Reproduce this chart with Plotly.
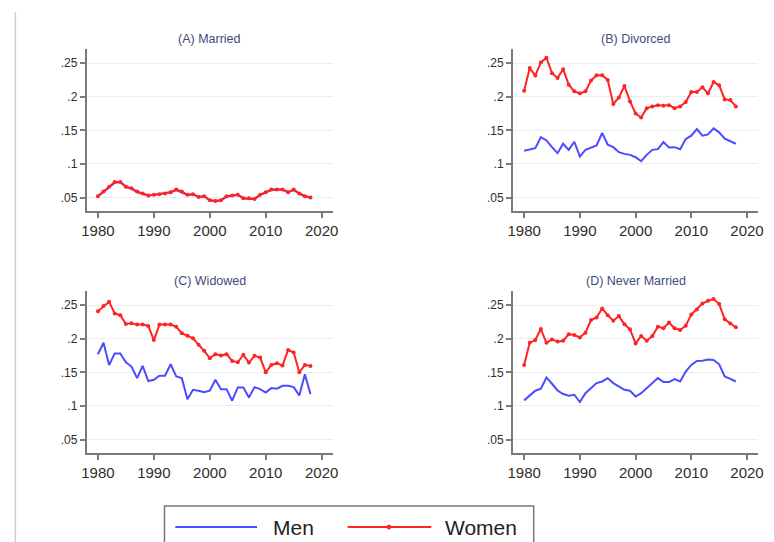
import plotly.graph_objects as go

# Survey years
years = list(range(1980, 2019))

# Share by marital status, men and women
married_men = [0.052, 0.058, 0.065, 0.072, 0.073, 0.066, 0.063, 0.058, 0.055, 0.053,
               0.054, 0.055, 0.056, 0.058, 0.061, 0.058, 0.054, 0.055, 0.051, 0.052,
               0.046, 0.045, 0.046, 0.051, 0.053, 0.054, 0.049, 0.049, 0.048, 0.054,
               0.058, 0.061, 0.062, 0.062, 0.058, 0.061, 0.056, 0.052, 0.050]
married_women = [0.052, 0.059, 0.066, 0.073, 0.073, 0.066, 0.064, 0.059, 0.056, 0.053,
                 0.054, 0.055, 0.056, 0.058, 0.062, 0.059, 0.054, 0.055, 0.051, 0.052,
                 0.046, 0.045, 0.046, 0.052, 0.053, 0.054, 0.049, 0.049, 0.048, 0.054,
                 0.058, 0.062, 0.062, 0.062, 0.058, 0.062, 0.056, 0.052, 0.050]

divorced_men = [0.1195, 0.121, 0.1235, 0.140, 0.135, 0.125, 0.116, 0.130, 0.121, 0.133,
                0.111, 0.121, 0.124, 0.1275, 0.146, 0.1285, 0.125, 0.1175, 0.115, 0.1135,
                0.110, 0.104, 0.1135, 0.121, 0.122, 0.1325, 0.1245, 0.125, 0.122, 0.137,
                0.142, 0.152, 0.142, 0.144, 0.153, 0.147, 0.1375, 0.1335, 0.130]
divorced_women = [0.209, 0.2426, 0.2316, 0.251, 0.258, 0.235, 0.228, 0.241, 0.218, 0.208,
                  0.205, 0.208, 0.224, 0.232, 0.232, 0.225, 0.189, 0.199, 0.216, 0.193,
                  0.175, 0.169, 0.183, 0.1855, 0.1875, 0.1865, 0.1875, 0.183, 0.1855, 0.192,
                  0.207, 0.207, 0.214, 0.205, 0.222, 0.217, 0.196, 0.195, 0.1855]

widowed_men = [0.177, 0.194, 0.161, 0.178, 0.178, 0.165, 0.1586, 0.1414, 0.1596, 0.137,
               0.139, 0.145, 0.145, 0.162, 0.1438, 0.1414, 0.110, 0.124, 0.1226, 0.1206,
               0.1226, 0.139, 0.125, 0.125, 0.1078, 0.1275, 0.1275, 0.1127, 0.128, 0.125,
               0.120, 0.1265, 0.1256, 0.130, 0.130, 0.128, 0.1157, 0.147, 0.1176]
widowed_women = [0.241, 0.2485, 0.255, 0.2376, 0.235, 0.222, 0.223, 0.221, 0.221, 0.219,
                 0.198, 0.221, 0.221, 0.221, 0.218, 0.208, 0.2045, 0.2006, 0.191, 0.182,
                 0.171, 0.177, 0.175, 0.177, 0.167, 0.165, 0.176, 0.1646, 0.1745, 0.172,
                 0.150, 0.161, 0.1636, 0.160, 0.1833, 0.1794, 0.150, 0.161, 0.1596]

never_men = [0.1083, 0.1152, 0.1226, 0.1256, 0.1424, 0.133, 0.123, 0.1177, 0.1152, 0.1167,
             0.1058, 0.119, 0.1265, 0.134, 0.1364, 0.1414, 0.134, 0.129, 0.124, 0.1226,
             0.114, 0.119, 0.1265, 0.134, 0.1414, 0.1355, 0.1355, 0.1399, 0.1364, 0.1512,
             0.161, 0.167, 0.1674, 0.169, 0.1685, 0.162, 0.1438, 0.1404, 0.1364]
never_women = [0.161, 0.194, 0.198, 0.2144, 0.194, 0.199, 0.1957, 0.197, 0.2066, 0.2056,
               0.202, 0.209, 0.2278, 0.2317, 0.245, 0.235, 0.2268, 0.2337, 0.2214, 0.214,
               0.193, 0.204, 0.197, 0.204, 0.218, 0.2155, 0.224, 0.2155, 0.213, 0.2194,
               0.236, 0.2436, 0.2525, 0.2564, 0.259, 0.2515, 0.2288, 0.2228, 0.217]

panel_titles = ["(A) Married", "(B) Divorced", "(C) Widowed", "(D) Never Married"]
panel_men = [married_men, divorced_men, widowed_men, never_men]
panel_women = [married_women, divorced_women, widowed_women, never_women]

y_tickvals = [0.05, 0.10, 0.15, 0.20, 0.25]
y_ticktext = [".05", ".1", ".15", ".2", ".25"]
x_tickvals = [1980, 1990, 2000, 2010, 2020]

W, H = 774, 542
MEN_COLOR = "#4b4bff"
WOMEN_COLOR = "#ff2424"
AXIS_COLOR = "#7a7a7a"
GRID_COLOR = "#e7eff1"
TITLE_COLOR = "#3f4c7e"
FONT = "Liberation Sans, Arial"

# plot-area boxes in pixels: (left, right, top, bottom)
boxes = [(82, 332, 49, 211), (515, 764, 49, 211),
         (82, 332, 291, 453), (515, 764, 291, 453)]

fig = go.Figure()
annotations = []
for i, (title, men, women, box) in enumerate(zip(panel_titles, panel_men, panel_women, boxes)):
    n = "" if i == 0 else str(i + 1)
    l, r, t, b = box
    fig.add_trace(go.Scatter(x=years, y=men, mode="lines", name="Men",
                             line=dict(color=MEN_COLOR, width=2),
                             xaxis="x" + n, yaxis="y" + n, showlegend=False))
    fig.add_trace(go.Scatter(x=years, y=women, mode="lines+markers", name="Women",
                             line=dict(color=WOMEN_COLOR, width=2),
                             marker=dict(color=WOMEN_COLOR, size=4),
                             xaxis="x" + n, yaxis="y" + n, showlegend=False))
    xa = dict(domain=[l / W, r / W], anchor="y" + n, range=[1978, 2022],
              tickvals=x_tickvals, ticks="outside", ticklen=5, tickwidth=1.5,
              tickcolor=AXIS_COLOR, showline=True, linecolor=AXIS_COLOR, linewidth=2,
              showgrid=False, zeroline=False,
              tickfont=dict(family=FONT, size=15, color="#2e2e2e"))
    ya = dict(domain=[1 - b / H, 1 - t / H], anchor="x" + n, range=[0.03, 0.271],
              tickvals=y_tickvals, ticktext=y_ticktext, ticks="outside", ticklen=5,
              tickwidth=1.5, tickcolor=AXIS_COLOR, showline=True, linecolor=AXIS_COLOR,
              linewidth=2, showgrid=True, gridcolor=GRID_COLOR, gridwidth=1,
              zeroline=False,
              tickfont=dict(family=FONT, size=12, color="#2e2e2e"))
    fig.update_layout({"xaxis" + n: xa, "yaxis" + n: ya})
    annotations.append(dict(text=title, x=(l + r) / 2 / W, y=1 - (t - 10) / H,
                            xref="paper", yref="paper", showarrow=False,
                            xanchor="center", yanchor="middle",
                            font=dict(family=FONT, size=12.5, color=TITLE_COLOR)))

# Legend drawn as a framed key below the panels
leg_y = 1 - 527 / H
annotations += [
    dict(text="Men", x=269 / W, y=leg_y, xref="paper", yref="paper", showarrow=False,
         xanchor="left", yanchor="middle",
         font=dict(family=FONT, size=21, color="#222222")),
    dict(text="Women", x=444 / W, y=leg_y, xref="paper", yref="paper", showarrow=False,
         xanchor="left", yanchor="middle",
         font=dict(family=FONT, size=21, color="#222222")),
]
shapes = [
    dict(type="rect", xref="paper", yref="paper", x0=161 / W, x1=536 / W,
         y0=-0.05, y1=1 - 506 / H, line=dict(color="#777777", width=1.5)),
    dict(type="line", xref="paper", yref="paper", x0=172 / W, x1=255 / W,
         y0=leg_y, y1=leg_y, line=dict(color=MEN_COLOR, width=2)),
    dict(type="line", xref="paper", yref="paper", x0=347 / W, x1=432 / W,
         y0=leg_y, y1=leg_y, line=dict(color=WOMEN_COLOR, width=2)),
    dict(type="circle", xref="paper", yref="paper", x0=387 / W, x1=391 / W,
         y0=1 - 529 / H, y1=1 - 525 / H, fillcolor=WOMEN_COLOR,
         line=dict(color=WOMEN_COLOR, width=1)),
    dict(type="line", xref="paper", yref="paper", x0=9.5 / W, x1=9.5 / W,
         y0=0, y1=1 - 12 / H, line=dict(color="#cfcfcf", width=1.5)),
]

fig.update_layout(width=W, height=H, margin=dict(l=0, r=0, t=0, b=0),
                  paper_bgcolor="white", plot_bgcolor="white",
                  annotations=annotations, shapes=shapes, showlegend=False)

fig.write_html("out.html")
